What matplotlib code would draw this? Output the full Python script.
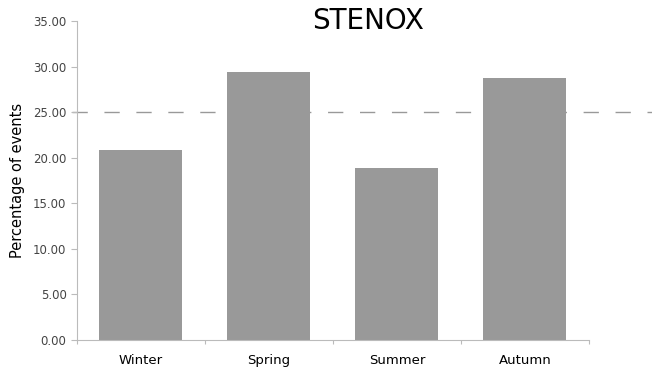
#!/usr/bin/env python3
import matplotlib.pyplot as plt
import numpy as np

seasons = ['Winter', 'Spring', 'Summer', 'Autumn']
percent = [20.8, 29.4, 18.9, 28.8]
reference = 25.0
yticks = np.arange(0, 36, 5)

fig = plt.figure(figsize=(6.52, 3.76), dpi=100)
ax = fig.add_axes([0.118, 0.096, 0.785, 0.848])

x = np.arange(len(seasons))
ax.bar(x, percent, width=0.65, color='#999999', zorder=2)

# dashed reference line runs past the plot to the right edge
ax.axhline(reference, xmin=-0.01, xmax=1.2, color='#999999', ls=(0, (11, 12)), lw=1, clip_on=False, zorder=1)

ax.set_xlim(-0.5, 3.5)
ax.set_ylim(0, 35)
ax.set_yticks(yticks)
ax.set_yticklabels(['%.2f' % t for t in yticks], color='#444444', fontsize=8.5)
ax.set_xticks(np.arange(-0.5, 4, 1), minor=False)
ax.set_xticklabels([])
ax.set_xticks(x, minor=True)
ax.set_xticklabels(seasons, minor=True, fontsize=9.5)
ax.tick_params(axis='x', which='minor', length=0, pad=10)
ax.tick_params(axis='x', which='major', length=3, color='#bbbbbb')
ax.tick_params(axis='y', length=4, color='#bbbbbb')

for s in ['top', 'right']:
    ax.spines[s].set_visible(False)
for s in ['left', 'bottom']:
    ax.spines[s].set_color('#bbbbbb')

ax.set_ylabel('Percentage of events', fontsize=10.5, labelpad=6)
fig.text(0.565, 0.945, 'STENOX', ha='center', va='center', fontsize=20)

fig.savefig('out.png', dpi=100)
